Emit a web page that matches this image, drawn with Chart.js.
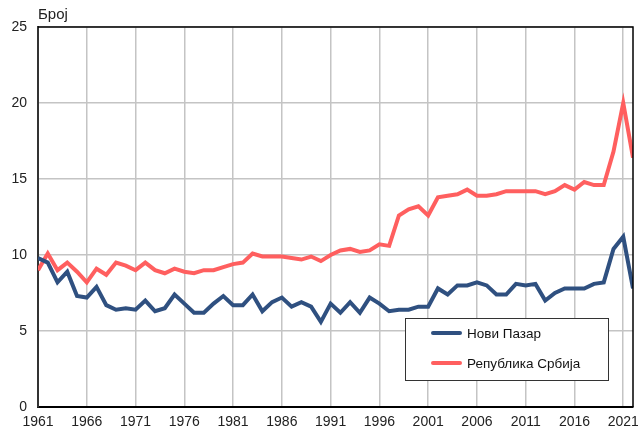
<!DOCTYPE html>
<html>
<head>
<meta charset="utf-8">
<script src="https://cdn.jsdelivr.net/npm/chart.js@4"></script>
<style>
  body { margin: 0; background: #fff; }
  #wrap { width: 638px; height: 430px; }
</style>
</head>
<body>
<div id="wrap"><canvas id="birthChart" width="638" height="430"></canvas></div>
<script>
const years = [];
for (let y = 1961; y <= 2022; y++) years.push(y);

const noviPazar = [
  9.8, 9.5, 8.2, 8.9, 7.3, 7.2, 7.9, 6.7, 6.4, 6.5,
  6.4, 7.0, 6.3, 6.5, 7.4, 6.8, 6.2, 6.2, 6.8, 7.3,
  6.7, 6.7, 7.4, 6.3, 6.9, 7.2, 6.6, 6.9, 6.6, 5.6,
  6.8, 6.2, 6.9, 6.2, 7.2, 6.8, 6.3, 6.4, 6.4, 6.6,
  6.6, 7.8, 7.4, 8.0, 8.0, 8.2, 8.0, 7.4, 7.4, 8.1,
  8.0, 8.1, 7.0, 7.5, 7.8, 7.8, 7.8, 8.1, 8.2, 10.4,
  11.2, 7.8
];

const srbija = [
  9.0, 10.1, 9.0, 9.5, 8.9, 8.2, 9.1, 8.7, 9.5, 9.3,
  9.0, 9.5, 9.0, 8.8, 9.1, 8.9, 8.8, 9.0, 9.0, 9.2,
  9.4, 9.5, 10.1, 9.9, 9.9, 9.9, 9.8, 9.7, 9.9, 9.6,
  10.0, 10.3, 10.4, 10.2, 10.3, 10.7, 10.6, 12.6, 13.0, 13.2,
  12.6, 13.8, 13.9, 14.0, 14.3, 13.9, 13.9, 14.0, 14.2, 14.2,
  14.2, 14.2, 14.0, 14.2, 14.6, 14.3, 14.8, 14.6, 14.6, 16.8,
  20.0, 16.4
];

const xTicks = [1961, 1966, 1971, 1976, 1981, 1986, 1991, 1996, 2001, 2006, 2011, 2016, 2021];
const yTicks = [0, 5, 10, 15, 20, 25];
const seriesNames = ['Нови Пазар', 'Република Србија'];
const seriesColors = ['#2f5080', '#ff5f5f'];

const FONT = 'Arial, "Liberation Sans", sans-serif';

// axis label, frame and boxed legend
const extras = {
  id: 'extras',
  afterDraw(chart) {
    const c = chart.ctx;
    const a = chart.chartArea;
    c.save();
    // frame: top and right in black
    c.strokeStyle = '#000';
    c.lineWidth = 1.5;
    c.beginPath();
    c.moveTo(a.left, a.top);
    c.lineTo(a.right, a.top);
    c.lineTo(a.right, a.bottom);
    c.stroke();

    c.fillStyle = '#222';
    c.font = '15px ' + FONT;
    c.textAlign = 'left';
    c.textBaseline = 'middle';
    c.fillText('Број', a.left, 15);

    // legend box
    const bx = 405, by = 318, bw = 203, bh = 62;
    c.fillStyle = '#fff';
    c.fillRect(bx, by, bw, bh);
    c.strokeStyle = '#333';
    c.lineWidth = 1;
    c.strokeRect(bx + 0.5, by + 0.5, bw, bh);
    chart.data.datasets.forEach((ds, i) => {
      const ly = by + 15 + i * 30;
      c.strokeStyle = ds.borderColor;
      c.lineWidth = 4;
      c.lineCap = 'round';
      c.beginPath();
      c.moveTo(bx + 28, ly);
      c.lineTo(bx + 55, ly);
      c.stroke();
      c.fillStyle = '#111';
      c.font = '13.5px ' + FONT;
      c.fillText(ds.label, bx + 62, ly + 1);
    });
    c.restore();
  }
};

new Chart(document.getElementById('birthChart'), {
  type: 'line',
  data: {
    datasets: [
      {
        label: seriesNames[0],
        data: years.map((y, i) => ({ x: y, y: noviPazar[i] })),
        borderColor: seriesColors[0],
        borderWidth: 4,
        pointRadius: 0,
        tension: 0
      },
      {
        label: seriesNames[1],
        data: years.map((y, i) => ({ x: y, y: srbija[i] })),
        borderColor: seriesColors[1],
        borderWidth: 4,
        pointRadius: 0,
        tension: 0
      }
    ]
  },
  options: {
    responsive: false,
    animation: false,
    layout: { padding: { top: 27, right: 5, left: 0, bottom: 0 } },
    plugins: {
      legend: { display: false },
      tooltip: { enabled: false }
    },
    scales: {
      x: {
        type: 'linear',
        min: 1961,
        max: 2022,
        afterBuildTicks: s => { s.ticks = xTicks.map(v => ({ value: v })); },
        afterFit: s => { s.height = 23; s.paddingLeft = 0; s.paddingRight = 0; },
        grid: { color: '#c4c4c4', lineWidth: 1.5, drawTicks: false },
        border: { color: '#000', width: 2 },
        ticks: {
          color: '#222',
          font: { family: FONT, size: 14 },
          padding: 7,
          maxRotation: 0,
          autoSkip: false,
          callback: v => String(v)
        }
      },
      y: {
        min: 0,
        max: 25,
        afterBuildTicks: s => { s.ticks = yTicks.map(v => ({ value: v })); },
        afterFit: s => { s.width = 38; s.paddingTop = 0; s.paddingBottom = 0; },
        grid: { color: '#c4c4c4', lineWidth: 1.5, drawTicks: false },
        border: { color: '#333', width: 2 },
        ticks: {
          color: '#222',
          font: { family: FONT, size: 14 },
          padding: 11
        }
      }
    }
  },
  plugins: [extras]
});
</script>
</body>
</html>
